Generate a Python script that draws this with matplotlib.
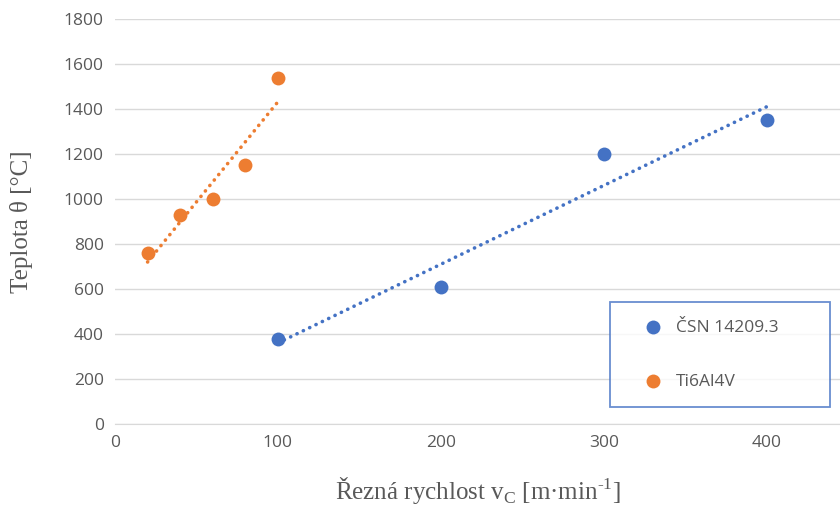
import matplotlib.pyplot as plt
import numpy as np

# data
csn_x = [100, 200, 300, 400]
csn_y = [380, 610, 1200, 1350]
ti_x = [20, 40, 60, 80, 100]
ti_y = [760, 930, 1000, 1150, 1540]

series = [
    ("ČSN 14209.3", csn_x, csn_y, "#4472C4"),
    ("Ti6Al4V", ti_x, ti_y, "#ED7D31"),
]

plt.rcParams["mathtext.fontset"] = "custom"
plt.rcParams["mathtext.rm"] = "Liberation Serif"

fig = plt.figure(figsize=(8.4, 5.09), dpi=100)
ax = fig.add_axes([115 / 840, 1 - 424 / 509, 1 - 115 / 840, (424 - 19) / 509])

for name, xs, ys, color in series:
    xs = np.array(xs, dtype=float)
    ys = np.array(ys, dtype=float)
    ax.scatter(xs, ys, s=100, color=color, label=name, zorder=3, linewidths=0)
    # linear trendline
    k, q = np.polyfit(xs, ys, 1)
    xt = np.array([xs.min(), xs.max()])
    ax.plot(xt, k * xt + q, color=color, linestyle=(0, (0.05, 1.9)),
            linewidth=2.6, zorder=2, dash_capstyle="round")

ax.set_xlim(0, 445)
ax.set_ylim(0, 1800)
ax.set_xticks([0, 100, 200, 300, 400])
ax.set_yticks(np.arange(0, 1801, 200))
ax.grid(axis="y", color="#d9d9d9", linewidth=1)
ax.set_axisbelow(True)
for side in ["left", "right", "top"]:
    ax.spines[side].set_visible(False)
ax.spines["bottom"].set_color("#d9d9d9")
ax.tick_params(length=0, labelsize=12.5, labelcolor="#595959", pad=8)
for lab in ax.get_xticklabels() + ax.get_yticklabels():
    lab.set_family("Open Sans")

ax.set_xlabel("Řezná rychlost v$_\\mathregular{C}$ [m·min$^\\mathregular{\u20101}$]",
              family="Liberation Serif", fontsize=18, color="#595959", labelpad=17)
ax.set_ylabel("Teplota θ [°C]", family="Liberation Serif", fontsize=18,
              color="#595959", labelpad=22)

leg = fig.legend(loc="upper left", bbox_to_anchor=(610 / 840, 1 - 302 / 509, 220 / 840, 0),
                 mode="expand", frameon=True, fancybox=False, labelspacing=2.2,
                 borderpad=1.0, borderaxespad=0, handlelength=3.0, handletextpad=-0.2,
                 prop={"family": "Open Sans", "size": 12.5}, labelcolor="#595959")
leg.get_frame().set_edgecolor("#4472C4")
leg.get_frame().set_linewidth(1.3)

fig.savefig("out.png", dpi=100)
